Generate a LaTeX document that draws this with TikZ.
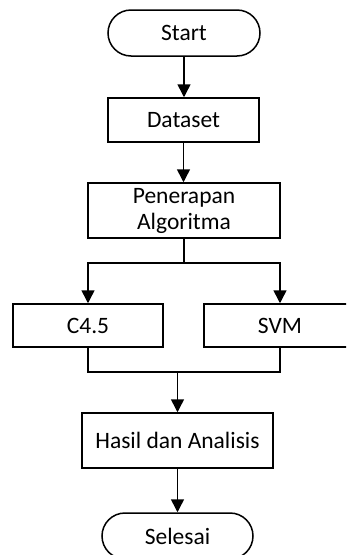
\documentclass[tikz,border=0pt]{standalone}
\usepackage{fontspec}
\setmainfont{Carlito}
\usetikzlibrary{arrows.meta}
\begin{document}
\begin{tikzpicture}[x=1pt,y=-1pt,
  every node/.style={font=\fontsize{23.5}{26}\selectfont, line width=1.5pt, inner sep=0pt, align=center},
  procbox/.style={draw, rectangle},
  termbox/.style={draw, rectangle, rounded corners=23pt},
  conn/.style={line width=1.5pt},
  arr/.style={conn, -{Triangle[length=13pt,width=13pt]}}]
\useasboundingbox (0,0) rectangle (346,555);
\clip (0,0) rectangle (346,555);
\node[termbox, minimum width=152pt, minimum height=46pt] (start) at (184,33) {Start};
\node[procbox, minimum width=151pt, minimum height=44pt] (dataset) at (183.5,120) {Dataset};
\node[procbox, minimum width=192pt, minimum height=55pt] (pen) at (184,210.5) {Penerapan\\Algoritma};
\node[procbox, minimum width=150pt, minimum height=43pt] (c45) at (88,325.5) {C4.5};
\node[procbox, minimum width=152pt, minimum height=43pt] (svm) at (280,325.5) {SVM};
\node[procbox, minimum width=191pt, minimum height=55pt] (hasil) at (177.5,440.5) {Hasil dan Analisis};
\node[termbox, minimum width=151pt, minimum height=46pt] (selesai) at (177.5,536) {Selesai};
\coordinate (split) at (184,263);
\coordinate (merge) at (177.5,372);
\draw[arr] (start.south) -- (start.south |- dataset.north);
\draw[arr] (dataset.south) -- (dataset.south |- pen.north);
\draw[conn] (pen.south) -- (split);
\draw[arr] (split) -| (c45.north);
\draw[arr] (split) -| (svm.north);
\draw[conn] (c45.south) |- (merge);
\draw[conn] (svm.south) |- (merge);
\draw[arr] (merge) -- (hasil.north);
\draw[arr] (hasil.south) -- (selesai.north);
\end{tikzpicture}
\end{document}
